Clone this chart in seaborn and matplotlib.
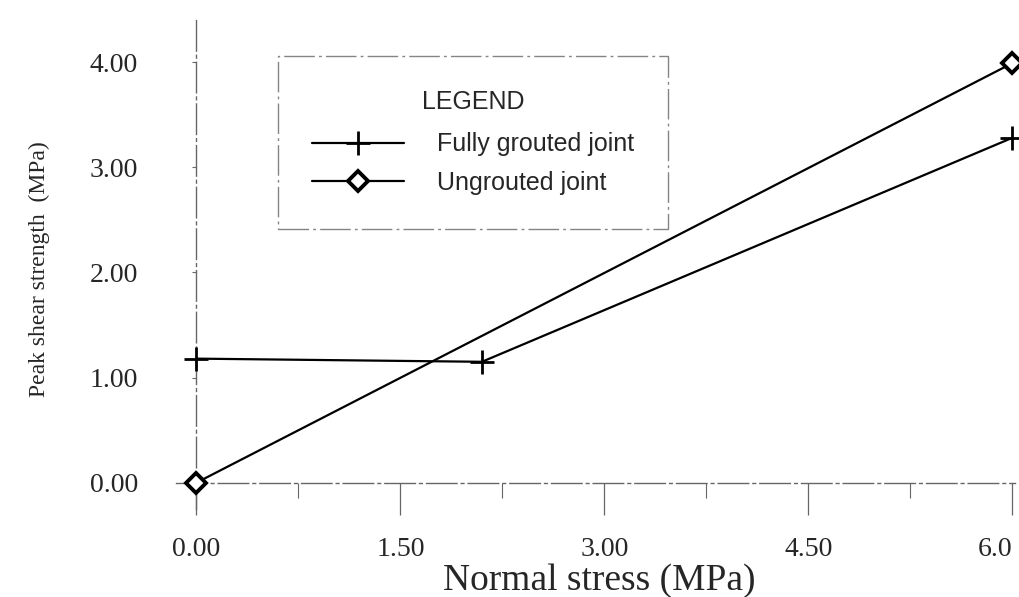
import matplotlib
matplotlib.use("Agg")
import matplotlib.pyplot as plt
import seaborn as sns
import pandas as pd
from matplotlib.ticker import FixedLocator, FixedFormatter

# ---- data ----
grouted_x = [0.0, 2.1, 6.0]
grouted_y = [1.18, 1.15, 3.28]
ungrouted_x = [0.0, 6.0]
ungrouted_y = [0.0, 3.99]
series_names = ["Fully grouted joint", "Ungrouted joint"]
x_ticks = [0.0, 1.5, 3.0, 4.5, 6.0]
x_ticklabels = ["0.00", "1.50", "3.00", "4.50", "6.0"]
x_minor = [0.75, 2.25, 3.75, 5.25]
y_ticks = [0, 1, 2, 3, 4]
y_ticklabels = ["0.00", "1.00", "2.00", "3.00", "4.00"]

sns.set_style("white")
plt.rcParams["font.family"] = ["Liberation Serif", "DejaVu Serif"]

fig = plt.figure(figsize=(10.19, 5.97), dpi=100)
ax = fig.add_axes([0.1727, 0.1474, 0.8234, 0.819])

df_g = pd.DataFrame({"x": grouted_x, "y": grouted_y})
df_u = pd.DataFrame({"x": ungrouted_x, "y": ungrouted_y})

sns.lineplot(data=df_g, x="x", y="y", ax=ax, color="black", lw=1.6,
             marker="+", markersize=17, markeredgewidth=2.0,
             markeredgecolor="black", sort=False,
             clip_on=False, label=series_names[0], zorder=5)
sns.lineplot(data=df_u, x="x", y="y", ax=ax, color="black", lw=1.6,
             marker="D", markersize=10, markeredgewidth=2.8,
             markerfacecolor="white", markeredgecolor="black", sort=False,
             clip_on=False, label=series_names[1], zorder=5)

ax.set_xlim(-0.15, 6.02)
ax.set_ylim(-0.25, 4.4)

for s in ["top", "right"]:
    ax.spines[s].set_visible(False)
ax.spines["left"].set_position(("data", 0))
ax.spines["bottom"].set_position(("data", 0))
for s in ["left", "bottom"]:
    ax.spines[s].set_color("#666666")
    ax.spines[s].set_linewidth(1.0)
    ax.spines[s].set_linestyle((0, (22, 3, 2, 3)))

ax.xaxis.set_major_locator(FixedLocator(x_ticks))
ax.xaxis.set_major_formatter(FixedFormatter(x_ticklabels))
ax.xaxis.set_minor_locator(FixedLocator(x_minor))
ax.yaxis.set_major_locator(FixedLocator(y_ticks))
ax.yaxis.set_major_formatter(FixedFormatter(y_ticklabels))

ax.tick_params(axis="x", which="major", direction="out", length=23, width=0.9,
               color="#666666", pad=16, labelsize=20, bottom=True)
ax.tick_params(axis="x", which="minor", direction="out", length=11, width=0.8,
               color="#666666", bottom=True)
ax.tick_params(axis="y", which="major", direction="out", length=3, width=0.8,
               color="#666666", pad=39, labelsize=20, left=True)

for lbl in ax.get_xticklabels():
    if lbl.get_text() == "6.0":
        lbl.set_horizontalalignment("right")

ax.set_xlabel("Normal stress (MPa)", fontsize=27)
ax.set_ylabel("Peak shear strength  (MPa)", fontsize=17)
ax.xaxis.set_label_coords(0.505, -0.112)
ax.yaxis.set_label_coords(-0.150, 0.49)

leg = ax.legend(title="LEGEND", loc="upper left",
                bbox_to_anchor=(278 / 1019, 1 - 56 / 597),
                bbox_transform=fig.transFigure,
                prop={"family": "Liberation Sans", "size": 18},
                title_fontproperties={"family": "Liberation Sans", "size": 18},
                frameon=True, fancybox=False, handlelength=3.7,
                borderpad=1.35, labelspacing=0.58, handletextpad=1.3,
                borderaxespad=0)
leg.get_frame().set_edgecolor("#666666")
leg.get_frame().set_linewidth(1.0)
leg.get_frame().set_linestyle((0, (22, 3, 2, 3)))
leg._legend_box.align = "center"
leg._legend_box.sep = 13.5

fig.savefig("out.png", dpi=100, facecolor="white")
